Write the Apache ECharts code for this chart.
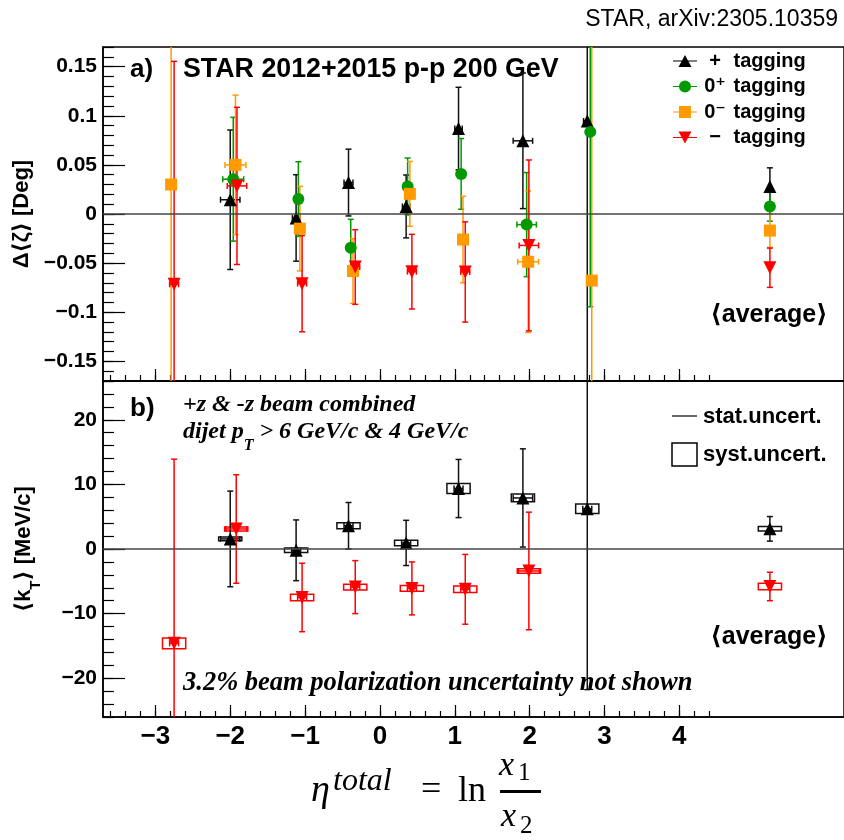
<!DOCTYPE html>
<html><head><meta charset="utf-8">
<script src="https://cdn.jsdelivr.net/npm/echarts@6/dist/echarts.min.js"></script>
<style>html,body{margin:0;padding:0;background:#fff}#chart{width:844px;height:840px}</style>
</head><body><div id="chart"></div>
<script>
// ---------- tick labels ----------
const xTickLabels    = [-3, -2, -1, 0, 1, 2, 3, 4];
const yTopTickLabels = [-0.15, -0.1, -0.05, 0, 0.05, 0.1, 0.15];
const yBotTickLabels = [-20, -10, 0, 10, 20];

// ---------- panel a) Δ<ζ> [Deg] ----------
const plusX    = [-2.00, -1.12, -0.42, 0.35, 1.05, 1.91, 2.77, 5.21];
const plusY    = [0.0145, -0.004, 0.032, 0.0077, 0.087, 0.0745, 0.0947, 0.028];
const plusYErr = [0.071, 0.044, 0.034, 0.032, 0.042, 0.069, 0.30, 0.019];
const plusXErr = [0.13, 0.05, 0.06, 0.05, 0.05, 0.13, 0.05, 0];

const zpX    = [-1.96, -1.09, -0.39, 0.37, 1.085, 1.96, 2.81, 5.21];
const zpY    = [0.0354, 0.0152, -0.0344, 0.028, 0.0408, -0.0108, 0.0836, 0.0077];
const zpYErr = [0.063, 0.038, 0.029, 0.029, 0.036, 0.053, 0.178, 0.015];
const zpXErr = [0.14, 0.05, 0.05, 0.05, 0.05, 0.13, 0.05, 0];

const zmX    = [-2.79, -1.93, -1.07, -0.36, 0.40, 1.11, 1.98, 2.83, 5.21];
const zmY    = [0.030, 0.050, -0.0149, -0.058, 0.0205, -0.026, -0.0486, -0.0678, -0.0169];
const zmYErr = [0.30, 0.071, 0.043, 0.033, 0.033, 0.044, 0.072, 0.30, 0.017];
const zmXErr = [0.06, 0.14, 0.05, 0.05, 0.05, 0.05, 0.14, 0.05, 0];

const mX    = [-2.75, -1.91, -1.04, -0.33, 0.427, 1.14, 1.99, 5.21];
const mY    = [-0.0716, 0.0286, -0.0709, -0.054, -0.0587, -0.059, -0.032, -0.0547];
const mYErr = [0.227, 0.08, 0.049, 0.038, 0.038, 0.051, 0.087, 0.02];
const mXErr = [0.06, 0.13, 0.06, 0.06, 0.06, 0.06, 0.13, 0];

// ---------- panel b) <k_T> [MeV/c] ----------
const kPlusX    = [-2.00, -1.12, -0.42, 0.35, 1.05, 1.91, 2.77, 5.21];
const kPlusY    = [1.56, -0.2, 3.6, 0.94, 9.36, 7.9, 6.24, 3.12];
const kPlusStat = [7.4, 4.7, 3.6, 3.5, 4.5, 7.6, 28, 1.9];
const kPlusSyst = [0.3, 0.35, 0.45, 0.42, 0.78, 0.6, 0.73, 0.35];
const kPlusXErr = [0.13, 0.06, 0.06, 0.06, 0.06, 0.13, 0.06, 0];

const kMinusX    = [-2.75, -1.92, -1.04, -0.33, 0.427, 1.14, 1.99, 5.21];
const kMinusY    = [-14.6, 3.1, -7.5, -5.9, -6.1, -6.24, -3.4, -5.8];
const kMinusStat = [28.5, 8.4, 5.3, 4.1, 4.1, 5.4, 9.1, 2.2];
const kMinusSyst = [0.83, 0.3, 0.5, 0.45, 0.45, 0.5, 0.35, 0.5];
const kMinusXErr = [0.06, 0.14, 0.06, 0.06, 0.06, 0.06, 0.14, 0];

// ---------- styling ----------
const SANS  = "'Liberation Sans', Arial, Helvetica, 'DejaVu Sans', sans-serif";
const SERIF = "'Liberation Serif', 'Times New Roman', 'DejaVu Serif', serif";
const BLACK = '#000000', GREEN = '#009900', ORANGE = '#ff9a00', RED = '#ff0000';
const SYST_HALF_WIDTH = 0.155;

// minor tick positions
const xMinor = []; for (let k = -18; k <= 22; k++) xMinor.push(+(k * 0.2).toFixed(2));
const yTopMinor = []; for (let k = -17; k <= 17; k++) yTopMinor.push(+(k * 0.01).toFixed(3));
const yBotMinor = []; for (let k = -13; k <= 13; k++) yBotMinor.push(k * 2);

const minusFmt = v => (v < 0 ? '\u2212' + String(+Math.abs(v).toFixed(3)) : String(+v.toFixed(3)));

function rows(xs, ys, xe, ye) { return xs.map((x, i) => [x, ys[i], xe[i], ye[i]]); }

function errRender(color) {
  return function (params, api) {
    const x = api.value(0), y = api.value(1), xe = api.value(2), ye = api.value(3);
    const c = api.coord([x, y]);
    const t = api.coord([x, y + ye]);
    const b = api.coord([x, y - ye]);
    const st = { stroke: color, lineWidth: 1.5, fill: null };
    const ch = [
      { type: 'line', shape: { x1: c[0], y1: t[1], x2: c[0], y2: b[1] }, style: st },
      { type: 'line', shape: { x1: c[0] - 3, y1: t[1], x2: c[0] + 3, y2: t[1] }, style: st },
      { type: 'line', shape: { x1: c[0] - 3, y1: b[1], x2: c[0] + 3, y2: b[1] }, style: st }
    ];
    if (xe > 0) {
      const l = api.coord([x - xe, y]), r = api.coord([x + xe, y]);
      ch.push({ type: 'line', shape: { x1: l[0], y1: c[1], x2: r[0], y2: c[1] }, style: st });
      ch.push({ type: 'line', shape: { x1: l[0], y1: c[1] - 3, x2: l[0], y2: c[1] + 3 }, style: st });
      ch.push({ type: 'line', shape: { x1: r[0], y1: c[1] - 3, x2: r[0], y2: c[1] + 3 }, style: st });
    }
    return { type: 'group', children: ch };
  };
}
function systRender(color) {
  return function (params, api) {
    const x = api.value(0), y = api.value(1), s = api.value(2);
    const p1 = api.coord([x - SYST_HALF_WIDTH, y + s]);
    const p2 = api.coord([x + SYST_HALF_WIDTH, y - s]);
    return { type: 'rect', shape: { x: p1[0], y: p1[1], width: p2[0] - p1[0], height: p2[1] - p1[1] },
             style: { stroke: color, lineWidth: 1.5, fill: null } };
  };
}

function errSeries(name, data, color, gi) {
  return { name: name + ' err', type: 'custom', xAxisIndex: gi * 2, yAxisIndex: gi * 2, clip: true, z: 2,
           renderItem: errRender(color), encode: { x: 0, y: 1 }, data: data, silent: true };
}
function systSeries(name, xs, ys, ss, color) {
  return { name: name + ' syst', type: 'custom', xAxisIndex: 2, yAxisIndex: 2, clip: true, z: 2,
           renderItem: systRender(color), encode: { x: 0, y: 1 },
           data: xs.map((x, i) => [x, ys[i], ss[i]]), silent: true };
}
function markerSeries(name, xs, ys, color, symbol, size, rot, gi, zero) {
  const s = { name: name, type: 'scatter', xAxisIndex: gi * 2, yAxisIndex: gi * 2, z: 3,
              symbol: symbol, symbolSize: size, symbolRotate: rot,
              itemStyle: { color: color, opacity: 1 },
              data: xs.map((x, i) => [x, ys[i]]), silent: true };
  if (zero) s.markLine = { silent: true, symbol: ['none', 'none'], label: { show: false },
      lineStyle: { color: '#444', width: 1.5, type: 'solid' }, data: [{ yAxis: 0 }] };
  return s;
}

const N_PLUS = '+ tagging', N_ZP = '0\u207A tagging', N_ZM = '0\u207B tagging', N_MINUS = '\u2212 tagging';

function xAxisPair(gi, labels) {
  const base = { gridIndex: gi, type: 'value', min: -3.7, max: 6.2, position: 'bottom', splitLine: { show: false } };
  return [
    Object.assign({}, base, {
      axisLine: { show: true, onZero: false, lineStyle: { color: '#000', width: 1.5 } },
      axisTick: { show: true, inside: true, length: 12, customValues: xTickLabels, lineStyle: { color: '#000', width: 1.2 } },
      axisLabel: labels ? { show: true, customValues: xTickLabels, formatter: minusFmt, fontSize: 26, fontWeight: 'bold',
                            fontFamily: SANS, color: '#000', margin: 7 } : { show: false }
    }),
    Object.assign({}, base, {
      axisLine: { show: false, onZero: false },
      axisTick: { show: true, inside: true, length: 6, customValues: xMinor, lineStyle: { color: '#000', width: 1.2 } },
      axisLabel: { show: false }
    })
  ];
}
function yAxisPair(gi, min, max, major, minor, name, nameStyle) {
  const base = { gridIndex: gi, type: 'value', min: min, max: max, position: 'left', splitLine: { show: false } };
  return [
    Object.assign({}, base, {
      axisLine: { show: true, onZero: false, lineStyle: { color: '#000', width: 1.5 } },
      axisTick: { show: true, inside: true, length: 22, customValues: major, lineStyle: { color: '#000', width: 1.2 } },
      axisLabel: { show: true, customValues: major, formatter: minusFmt, fontSize: 21, fontWeight: 'bold',
                   fontFamily: SANS, color: '#000', margin: 6 },
      name: name, nameLocation: 'middle', nameRotate: 90, nameGap: 60, nameTextStyle: nameStyle
    }),
    Object.assign({}, base, {
      axisLine: { show: false, onZero: false },
      axisTick: { show: true, inside: true, length: 11, customValues: minor, lineStyle: { color: '#000', width: 1.2 } },
      axisLabel: { show: false }
    })
  ];
}

function txt(x, y, text, size, extra) {
  return { type: 'text', x: x, y: y, silent: true,
           style: Object.assign({ text: text, fontSize: size, fontFamily: SANS, fontWeight: 'bold', fill: '#000',
                                  align: 'left', textAlign: 'left', verticalAlign: 'middle', textVerticalAlign: 'middle' }, extra || {}) };
}
const italicSerif = { fontFamily: SERIF, fontStyle: 'italic', fontWeight: 'bold' };
const mathIt = { fontFamily: SERIF, fontStyle: 'italic', fontWeight: 'normal' };
const mathRm = { fontFamily: SERIF, fontWeight: 'normal' };

const option = {
  animation: false,
  backgroundColor: '#fff',
  grid: [
    { left: 103, top: 47, width: 742.5, height: 334, show: true, borderColor: '#000', borderWidth: 1.5, backgroundColor: 'transparent' },
    { left: 103, top: 381, width: 742.5, height: 336, show: true, borderColor: '#000', borderWidth: 1.5, backgroundColor: 'transparent' }
  ],
  xAxis: [].concat(xAxisPair(0, false), xAxisPair(1, true)),
  yAxis: [].concat(
    yAxisPair(0, -0.17, 0.17, yTopTickLabels, yTopMinor, '\u0394\u27E8\u03B6\u27E9 [Deg]',
      { fontSize: 22, fontWeight: 'bold', fontFamily: SANS, color: '#000' }),
    yAxisPair(1, -26, 26, yBotTickLabels, yBotMinor, '{m|\u27E8k}{s|T}{m|\u27E9 [MeV/c]}',
      { color: '#000', rich: {
        m: { fontSize: 22, fontWeight: 'bold', fontFamily: SANS, color: '#000', lineHeight: 26, verticalAlign: 'top' },
        s: { fontSize: 15, fontWeight: 'bold', fontFamily: SANS, color: '#000', lineHeight: 30, verticalAlign: 'bottom' } } })
  ),
  legend: {
    orient: 'vertical', left: 668, top: 45, itemWidth: 24, itemHeight: 13, itemGap: 3.5, selectedMode: false,
    data: [
      { name: N_PLUS,  icon: 'path://M0,6.4H24V7.6H0Z M12,1L18.5,13H5.5Z' },
      { name: N_ZP,    icon: 'path://M0,6.4H24V7.6H0Z M18,7A6,6 0 1 1 6,7A6,6 0 1 1 18,7Z' },
      { name: N_ZM,    icon: 'path://M0,6.4H24V7.6H0Z M6,1H18V13H6Z' },
      { name: N_MINUS, icon: 'path://M0,6.4H24V7.6H0Z M5.5,1H18.5L12,13Z' }
    ],
    formatter: function (n) { const i = n.indexOf(' '); return '{p|' + n.slice(0, i) + '} {t|' + n.slice(i + 1) + '}'; },
    textStyle: { fontSize: 20, fontWeight: 'bold', fontFamily: SANS, color: '#000', lineHeight: 22,
      rich: { p: { width: 26, align: 'right', fontSize: 20, fontWeight: 'bold', fontFamily: SANS, color: '#000' },
              t: { fontSize: 20, fontWeight: 'bold', fontFamily: SANS, color: '#000' } } }
  },
  series: [
    // panel a
    errSeries(N_PLUS,  rows(plusX, plusY, plusXErr, plusYErr), '#111', 0),
    errSeries(N_ZP,    rows(zpX, zpY, zpXErr, zpYErr), GREEN, 0),
    errSeries(N_ZM,    rows(zmX, zmY, zmXErr, zmYErr), ORANGE, 0),
    errSeries(N_MINUS, rows(mX, mY, mXErr, mYErr), RED, 0),
    markerSeries(N_PLUS,  plusX, plusY, BLACK, 'triangle', 13, 0, 0, true),
    markerSeries(N_ZP,    zpX, zpY, GREEN, 'circle', 12, 0, 0, false),
    markerSeries(N_ZM,    zmX, zmY, ORANGE, 'rect', 12, 0, 0, false),
    markerSeries(N_MINUS, mX, mY, RED, 'triangle', 13, 180, 0, false),
    // panel b
    systSeries(N_PLUS,  kPlusX, kPlusY, kPlusSyst, '#111'),
    systSeries(N_MINUS, kMinusX, kMinusY, kMinusSyst, RED),
    errSeries(N_PLUS,  rows(kPlusX, kPlusY, kPlusXErr, kPlusStat), '#111', 1),
    errSeries(N_MINUS, rows(kMinusX, kMinusY, kMinusXErr, kMinusStat), RED, 1),
    markerSeries(N_PLUS,  kPlusX, kPlusY, BLACK, 'triangle', 13, 0, 1, true),
    markerSeries(N_MINUS, kMinusX, kMinusY, RED, 'triangle', 13, 180, 1, false)
  ],
  graphic: [
    txt(838, 20, 'STAR, arXiv:2305.10359', 23, { fontWeight: 'normal', align: 'right', textAlign: 'right' }),
    txt(130, 70, 'a)', 26),
    txt(183, 70, 'STAR 2012+2015 p-p 200 GeV', 26.8),
    txt(769, 315, '\u27E8average\u27E9', 25, { align: 'center', textAlign: 'center' }),
    txt(130, 409, 'b)', 26),
    txt(183, 405, '+z & -z beam combined', 24, italicSerif),
    txt(183, 437, '{m|dijet p}{s|T}{m| > 6 GeV/c & 4 GeV/c}', 24, Object.assign({}, italicSerif, { rich: {
      m: { fontSize: 24, fontFamily: SERIF, fontStyle: 'italic', fontWeight: 'bold', fill: '#000', lineHeight: 26, verticalAlign: 'top' },
      s: { fontSize: 16, fontFamily: SERIF, fontStyle: 'italic', fontWeight: 'bold', fill: '#000', lineHeight: 34, verticalAlign: 'bottom' } } })),
    { type: 'line', silent: true, shape: { x1: 672, y1: 416, x2: 697, y2: 416 }, style: { stroke: '#333', lineWidth: 1.5 } },
    txt(703, 417, 'stat.uncert.', 22),
    { type: 'rect', silent: true, shape: { x: 672, y: 443, width: 25, height: 23 }, style: { stroke: '#000', lineWidth: 1.5, fill: null } },
    txt(703, 455, 'syst.uncert.', 22),
    txt(769, 637, '\u27E8average\u27E9', 25, { align: 'center', textAlign: 'center' }),
    txt(183, 683, '3.2% beam polarization uncertainty not shown', 26.5, italicSerif),
    // x-axis title:  η^total = ln x1/x2
    txt(311, 791, '\u03B7', 38, mathIt),
    txt(333, 782, 'total', 32, mathIt),
    txt(421, 791, '=', 36, mathRm),
    txt(458, 792, 'ln', 36, mathRm),
    { type: 'rect', silent: true, shape: { x: 500, y: 790, width: 41, height: 3 }, style: { fill: '#000' } },
    txt(499, 766, 'x', 34, mathIt),
    txt(518, 773, '1', 25, mathRm),
    txt(501, 817, 'x', 34, mathIt),
    txt(520, 826, '2', 25, mathRm)
  ]
};

const chart = echarts.init(document.getElementById('chart'), null, { renderer: 'canvas', width: 844, height: 840 });
chart.setOption(option);
</script>
</body></html>
